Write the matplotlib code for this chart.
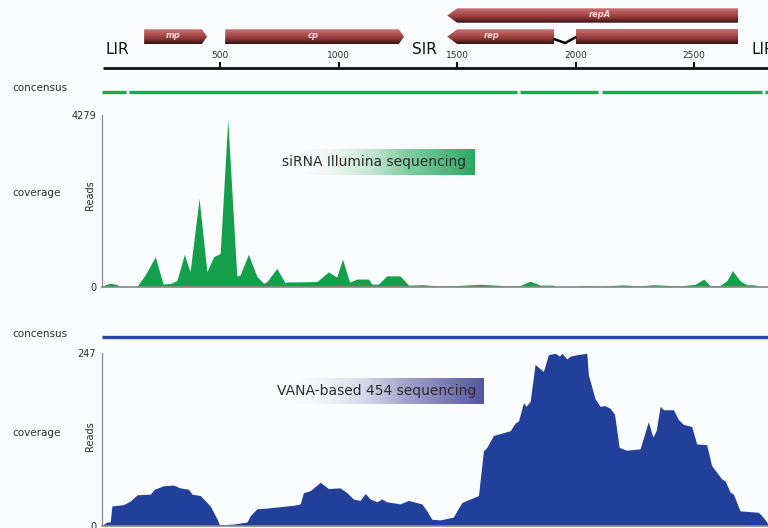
import numpy as np
import matplotlib
matplotlib.use('Agg')
import matplotlib.pyplot as plt
from matplotlib.patches import Polygon, Rectangle
from matplotlib.colors import LinearSegmentedColormap, to_rgb

# ---------------- data ----------------
x_max_bp = 2812
tick_positions = [500, 1000, 1500, 2000, 2500]
region_labels = ['LIR', 'SIR', 'LIR']
region_pos = [15, 1309, 2744]

gene_names = ['mp', 'cp', 'repA', 'rep', '']
gene_start = [179, 521, 1458, 1458, 2002]
gene_end = [445, 1276, 2686, 1909, 2686]
gene_dir = [1, 1, -1, -1, 0]
gene_row = [1, 1, 0, 1, 1]
gene_label_pos = [303, 894, 2103, 1646, None]
intron_x = [1912, 1956, 1998]

cons_green_start = [1, 116, 1766, 2112, 2800]
cons_green_end = [103, 1753, 2095, 2787, 2812]
cons_blue_start = [0]
cons_blue_end = [2812]

sirna_max = 4279
sirna_pos = [0, 19, 36, 61, 78, 149, 184, 226, 259, 289, 317, 349, 373, 411, 444,
             472, 500, 532, 570, 584, 619, 655, 683, 697, 739, 774, 783, 837, 909,
             957, 992, 1016, 1046, 1077, 1126, 1140, 1168, 1203, 1259, 1295, 1357,
             1414, 1499, 1597, 1710, 1766, 1808, 1850, 1905, 1921, 1998, 2061, 2103,
             2200, 2272, 2327, 2441, 2504, 2541, 2567, 2609, 2638, 2662, 2694, 2722,
             2750, 2778, 2812]
sirna_reads = [0, 60, 85, 60, 10, 10, 300, 746, 70, 80, 150, 806, 373, 2200, 373,
               746, 830, 4165, 266, 290, 806, 256, 85, 125, 457, 100, 120, 120, 130,
               370, 240, 690, 115, 190, 190, 65, 65, 270, 270, 40, 50,
               20, 30, 60, 25, 30, 140, 40, 40, 0, 10, 30, 10,
               45, 20, 50, 20, 60, 190, 30, 30, 150, 400, 150, 50,
               50, 10, 10]

vana_max = 247
vana_pos = [0, 22, 36, 43, 92, 120, 149, 205, 222, 261, 303, 331, 366, 381, 416, 458,
            486, 497, 556, 613, 627, 655, 697, 809, 838, 851, 880, 922, 957, 1006,
            1035, 1062, 1091, 1112, 1133, 1161, 1182, 1203, 1259, 1295, 1351, 1372,
            1393, 1428, 1484, 1499, 1520, 1590, 1611, 1625, 1653, 1724, 1745, 1759,
            1780, 1791, 1808, 1829, 1864, 1885, 1914, 1932, 1942, 1963, 1977, 2005,
            2047, 2054, 2082, 2103, 2124, 2146, 2164, 2184, 2216, 2272, 2307, 2326,
            2340, 2357, 2371, 2413, 2434, 2455, 2490, 2511, 2553, 2574, 2616, 2631,
            2652, 2666, 2694, 2771, 2786, 2807, 2812]
vana_reads = [0, 5, 5, 28, 30, 35, 44, 45, 52, 57, 58, 54, 52, 45, 43, 28,
              10, 1, 2, 5, 14, 24, 25, 29, 31, 47, 50, 62, 53, 54,
              47, 38, 36, 46, 38, 34, 38, 34, 31, 36, 31, 21,
              9, 8, 12, 21, 33, 43, 107, 112, 129, 136, 147, 150,
              176, 171, 178, 231, 221, 245, 247, 243, 247, 239, 243, 245,
              247, 216, 182, 171, 172, 168, 160, 112, 108, 110, 149, 127,
              136, 171, 166, 166, 152, 145, 142, 117, 116, 86, 67, 64,
              48, 45, 21, 19, 14, 5, 0]

# ---------------- layout helpers ----------------
W, H = 768, 528
BG = '#fbfcfe'
TXT = '#2b2b2b'
GREEN = '#14a04a'
BLUE = '#22409a'

def rect(l, t, r, b):
    return [l / W, 1 - b / H, (r - l) / W, (b - t) / H]

fig = plt.figure(figsize=(W / 100, H / 100), dpi=100, facecolor=BG)
plt.rcParams['font.family'] = ['DejaVu Sans']

X0 = 101.7

# ---------------- genome map ----------------
axg = fig.add_axes(rect(X0, 0, W, 100))
axg.set_xlim(0, x_max_bp)
axg.set_ylim(100, 0)
axg.axis('off')
axg.patch.set_alpha(0)

gene_cmap = LinearSegmentedColormap.from_list(
    'g', [(0.0, '#c87272'), (0.35, '#b05252'), (0.65, '#8a3636'), (1.0, '#321212')])
grad = np.linspace(0, 1, 64).reshape(-1, 1)
rows = {0: (8.3, 22.7), 1: (29.3, 44.0)}
for name, s, e, d, row, lp in zip(gene_names, gene_start, gene_end, gene_dir, gene_row, gene_label_pos):
    top, bot = rows[row]
    mid = (top + bot) / 2
    if d == 1:
        hl = 22
        pts = [(s, top), (e - hl, top), (e, mid), (e - hl, bot), (s, bot)]
    elif d == -1:
        hl = 42
        pts = [(s, mid), (s + hl, top), (e, top), (e, bot), (s + hl, bot)]
    else:
        pts = [(s, top), (e, top), (e, bot), (s, bot)]
    poly = Polygon(pts, closed=True, facecolor='none', edgecolor='none')
    axg.add_patch(poly)
    im = axg.imshow(grad, extent=(s, e, bot, top), aspect='auto', cmap=gene_cmap,
                    origin='upper', interpolation='bilinear', zorder=2)
    im.set_clip_path(poly)
    if name:
        axg.text(lp, mid - 1.0, name, color='#f2d4d4', fontsize=6, fontstyle='italic',
                 fontweight='bold', ha='center', va='center', zorder=3)

axg.plot(intron_x, [39.3, 43.0, 37.5], color='black', lw=1.8, zorder=4,
         solid_joinstyle='miter')

axg.set_xlim(0, x_max_bp)
axg.set_ylim(100, 0)

# genome axis line
axg.plot([4, x_max_bp], [68.2, 68.2], color='#111111', lw=2, solid_capstyle='butt', clip_on=False)
for t in tick_positions:
    axg.plot([t, t], [62.5, 68.2], color='#111111', lw=1.5)
    axg.text(t, 55.5, str(t), fontsize=6.5, color=TXT, ha='center', va='center')
for lab, p in zip(region_labels, region_pos):
    axg.text(p, 49.5, lab, fontsize=11, color='#111111', ha='left', va='center', clip_on=False)

# green consensus
for s, e in zip(cons_green_start, cons_green_end):
    axg.plot([s, e], [92.3, 92.3], color='#1ca84e', lw=2.4, solid_capstyle='butt')

# ---------------- coverage panels ----------------
def coverage_axes(t, b, pos, reads, ymax, color):
    ax = fig.add_axes(rect(X0, t, W, b))
    ax.patch.set_alpha(0)
    ax.fill_between(pos, 0, reads, color=color, lw=0)
    ax.set_xlim(0, x_max_bp)
    ax.set_ylim(0, ymax)
    for sp in ['top', 'right']:
        ax.spines[sp].set_visible(False)
    ax.spines['left'].set_color('#8a8a8a')
    ax.spines['bottom'].set_color('#8a8a8a')
    ax.spines['left'].set_linewidth(0.9)
    ax.spines['bottom'].set_linewidth(1.2)
    ax.set_xticks([])
    ax.set_yticks([0, ymax])
    ax.set_yticklabels(['0', str(ymax)])
    ax.tick_params(axis='y', length=0, pad=4, labelsize=7, labelcolor=TXT)
    return ax

ax1 = coverage_axes(115, 286.7, sirna_pos, sirna_reads, sirna_max, GREEN)
ax2 = coverage_axes(353.3, 525.5, vana_pos, vana_reads, vana_max, BLUE)

# blue consensus
axc = fig.add_axes(rect(X0, 330, W, 345))
axc.set_xlim(0, x_max_bp)
axc.set_ylim(345, 330)
axc.axis('off')
for s, e in zip(cons_blue_start, cons_blue_end):
    axc.plot([s, e], [337.3, 337.3], color='#2646a8', lw=2.4, solid_capstyle='butt')

# side labels
def ftext(x, y, s, **kw):
    fig.text(x / W, 1 - y / H, s, **kw)

ftext(12, 88, 'concensus', fontsize=7.5, color=TXT, va='center', ha='left')
ftext(12, 193.3, 'coverage', fontsize=7.5, color=TXT, va='center', ha='left')
ftext(90, 195, 'Reads', fontsize=7, color=TXT, va='center', ha='center', rotation=90)
ftext(12, 334, 'concensus', fontsize=7.5, color=TXT, va='center', ha='left')
ftext(12, 433.3, 'coverage', fontsize=7.5, color=TXT, va='center', ha='left')
ftext(90, 436, 'Reads', fontsize=7, color=TXT, va='center', ha='center', rotation=90)

# gradient title boxes
def grad_box(l, t, r, b, color, text, tx):
    ax = fig.add_axes(rect(l, t, r, b))
    ax.axis('off')
    c = np.array(to_rgb(color))
    n = 256
    g = np.zeros((1, n, 4))
    a = np.linspace(0, 1, n) ** 1.3
    g[0, :, :3] = (1 - a)[:, None] * np.array([1, 1, 1]) + a[:, None] * c
    g[0, :, 3] = np.clip(np.linspace(0, 1, n) * 1.6, 0, 1)
    ax.imshow(g, extent=(0, 1, 0, 1), aspect='auto', interpolation='bilinear')
    ax.set_xlim(0, 1)
    ax.set_ylim(0, 1)
    fig.text(tx / W, 1 - ((t + b) / 2) / H, text, fontsize=10, color=TXT,
             ha='left', va='center')

grad_box(278, 149.3, 474.3, 175.3, '#2aa860', 'siRNA Illumina sequencing', 281.7)
grad_box(272, 378.3, 483.3, 404, '#5656a0', 'VANA-based 454 sequencing', 276.7)

fig.savefig('out.png', dpi=100, facecolor=BG)
